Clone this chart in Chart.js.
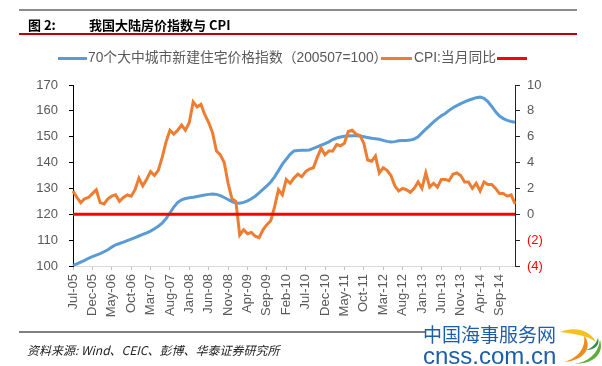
<!DOCTYPE html>
<html>
<head>
<meta charset="utf-8">
<script src="https://cdn.jsdelivr.net/npm/chart.js@4"></script>
<style>
    html, body { margin: 0; padding: 0; background: #fff; }
    #wrap { position: relative; width: 602px; height: 366px; overflow: hidden; font-family: "Liberation Sans", Arial, "Noto Sans CJK SC", sans-serif; }
    #priceChart { position: absolute; left: 0; top: 0; }
    .abs { position: absolute; white-space: nowrap; }
    .rule { position: absolute; }
    .title { font-family: "Noto Sans CJK SC", sans-serif; font-weight: bold; font-size: 13px; line-height: 16px; color: #000; }
    .legend-text { font-size: 13.8px; line-height: 16px; color: #595959; font-family: "Liberation Sans", Arial, "Noto Sans CJK SC", sans-serif; }
    .swatch { position: absolute; height: 3px; }
    .source { font-family: "Noto Sans CJK SC", serif; font-style: italic; font-size: 12px; line-height: 14px; color: #222; }
    .wm1 { font-family: "Noto Sans CJK SC", sans-serif; font-size: 19px; line-height: 20px; color: #1d5ea8; }
    .wm2 { font-family: "Liberation Sans", Arial, sans-serif; font-size: 24px; line-height: 22px; color: #1d5ea8; }
</style>
</head>
<body>
<div id="wrap">
    <canvas id="priceChart" width="602" height="366"></canvas>

    <!-- header -->
    <div class="rule" style="left:19px; top:9px; width:558px; height:2px; background:#8c8c8c;"></div>
    <div class="abs title" style="left:28px; top:17px;">图 2:</div>
    <div class="abs title" style="left:89px; top:17px;">我国大陆房价指数与 CPI</div>
    <div class="rule" style="left:19px; top:33px; width:558px; height:2px; background:#c00000;"></div>

    <!-- legend -->
    <div class="swatch" style="left:58px; top:57px; width:29px; background:#5b9bd5;"></div>
    <div class="abs legend-text" style="left:88px; top:50px;">70个大中城市新建住宅价格指数（200507=100）</div>
    <div class="swatch" style="left:381px; top:57px; width:31px; background:#ed7d31;"></div>
    <div class="abs legend-text" style="left:414px; top:50px;">CPI:当月同比</div>
    <div class="swatch" style="left:497px; top:57px; width:30px; background:#ff0000;"></div>

    <!-- footer -->
    <div class="rule" style="left:19px; top:331px; width:406px; height:2px; background:#808080;"></div>
    <div class="abs source" style="left:27px; top:343px;">资料来源: Wind、CEIC、彭博、华泰证券研究所</div>
    <div class="abs wm1" style="left:423px; top:324px;">中国海事服务网</div>
    <div class="abs wm2" style="left:423px; top:345px;">cnss.com.cn</div>
    <svg class="abs" style="left:558px; top:326px;" width="44" height="40" viewBox="0 0 44 40">
        <path d="M2 6 C 16 0, 32 4, 38 16 C 30 10, 18 8, 2 6 Z" fill="#f4c21b"/>
        <path d="M6 36 C 20 32, 28 22, 26 10 C 34 18, 30 34, 6 36 Z" fill="#f08a1c"/>
        <path d="M16 38 C 30 36, 40 28, 42 14 C 46 26, 38 38, 16 38 Z" fill="#5fae3c"/>
        <path d="M28 24 C 34 22, 38 18, 40 12 C 42 18, 38 24, 28 24 Z" fill="#2f8f4a"/>
    </svg>
</div>

<script>
// --- Data ---
const months = [
    'Jul-05','Aug-05','Sep-05','Oct-05','Nov-05','Dec-05',
    'Jan-06','Feb-06','Mar-06','Apr-06','May-06','Jun-06','Jul-06','Aug-06','Sep-06','Oct-06','Nov-06','Dec-06',
    'Jan-07','Feb-07','Mar-07','Apr-07','May-07','Jun-07','Jul-07','Aug-07','Sep-07','Oct-07','Nov-07','Dec-07',
    'Jan-08','Feb-08','Mar-08','Apr-08','May-08','Jun-08','Jul-08','Aug-08','Sep-08','Oct-08','Nov-08','Dec-08',
    'Jan-09','Feb-09','Mar-09','Apr-09','May-09','Jun-09','Jul-09','Aug-09','Sep-09','Oct-09','Nov-09','Dec-09',
    'Jan-10','Feb-10','Mar-10','Apr-10','May-10','Jun-10','Jul-10','Aug-10','Sep-10','Oct-10','Nov-10','Dec-10',
    'Jan-11','Feb-11','Mar-11','Apr-11','May-11','Jun-11','Jul-11','Aug-11','Sep-11','Oct-11','Nov-11','Dec-11',
    'Jan-12','Feb-12','Mar-12','Apr-12','May-12','Jun-12','Jul-12','Aug-12','Sep-12','Oct-12','Nov-12','Dec-12',
    'Jan-13','Feb-13','Mar-13','Apr-13','May-13','Jun-13','Jul-13','Aug-13','Sep-13','Oct-13','Nov-13','Dec-13',
    'Jan-14','Feb-14','Mar-14','Apr-14','May-14','Jun-14','Jul-14','Aug-14','Sep-14','Oct-14','Nov-14','Dec-14',
    'Jan-15'
];

// 70 city new home price index (200507=100), left axis
const priceIndex = [
    100.2, 100.8, 101.5, 102.2, 103.0, 103.6,
    104.2, 104.8, 105.5, 106.3, 107.3, 108.2, 108.7, 109.2, 109.8, 110.4, 111.0, 111.6,
    112.2, 112.8, 113.5, 114.4, 115.4, 116.6, 118.3, 120.5, 122.8, 124.6, 125.6, 126.1,
    126.4, 126.6, 126.9, 127.2, 127.5, 127.7, 127.8, 127.7, 127.2, 126.5, 125.7, 124.9,
    124.4, 124.3, 124.6, 125.2, 126.0, 127.0, 128.3, 129.6, 131.0, 132.5, 134.5, 136.9,
    139.4, 141.3, 143.2, 144.5, 144.7, 144.8, 144.8, 144.9, 145.5, 146.1, 146.7, 147.3,
    148.0, 148.9, 149.5, 149.9, 150.2, 150.3, 150.4, 150.4, 150.3, 150.0, 149.7, 149.4,
    149.2, 149.0, 148.6, 148.2, 148.0, 148.1, 148.4, 148.5, 148.5, 148.7, 149.1, 150.0,
    151.5, 152.9, 154.3, 155.7, 157.0, 158.1, 159.0, 160.2, 161.2, 162.0, 162.8, 163.5,
    164.1, 164.6, 165.1, 165.3, 164.8, 163.6, 161.7, 159.6, 158.0, 157.0, 156.3, 155.9,
    155.6
];

// CPI year-on-year (%), right axis
const cpiYoy = [
    1.8, 1.3, 0.9, 1.2, 1.3, 1.6,
    1.9, 0.9, 0.8, 1.2, 1.4, 1.5, 1.0, 1.3, 1.5, 1.4, 1.9, 2.8,
    2.2, 2.7, 3.3, 3.0, 3.4, 4.4, 5.6, 6.5, 6.2, 6.5, 6.9, 6.5,
    7.1, 8.7, 8.3, 8.5, 7.7, 7.1, 6.3, 4.9, 4.6, 4.0, 2.4, 1.2,
    1.0, -1.6, -1.2, -1.5, -1.4, -1.7, -1.8, -1.2, -0.8, -0.5, 0.6, 1.9,
    1.5, 2.7, 2.4, 2.8, 3.1, 2.9, 3.3, 3.5, 3.6, 4.4, 5.1, 4.6,
    4.9, 4.9, 5.4, 5.3, 5.5, 6.4, 6.5, 6.2, 6.1, 5.5, 4.2, 4.1,
    4.5, 3.2, 3.6, 3.4, 3.0, 2.2, 1.8, 2.0, 1.9, 1.7, 2.0, 2.5,
    2.0, 3.2, 2.1, 2.4, 2.1, 2.7, 2.7, 2.6, 3.1, 3.2, 3.0, 2.5,
    2.5, 2.0, 2.4, 1.8, 2.5, 2.3, 2.3, 2.0, 1.6, 1.6, 1.4, 1.5,
    0.8
];

// zero reference line on the right axis, from first to last month
const zeroLine = [
    { x: 'Jul-05', y: 0 },
    { x: 'Jan-15', y: 0 }
];

const leftTicks = { min: 100, max: 170, step: 10 };
const rightTicks = { min: -4, max: 10, step: 2 };
const labelEvery = 5;

// --- Chart ---
const tickFont = { family: '"Liberation Sans", Arial, sans-serif', size: 13 };
const ctx = document.getElementById('priceChart').getContext('2d');

const priceChart = new Chart(ctx, {
    type: 'line',
    data: {
        labels: months,
        datasets: [
            {
                label: 'CPI:当月同比 zero',
                data: zeroLine,
                yAxisID: 'y1',
                borderColor: '#ff0000',
                borderWidth: 3,
                pointRadius: 0,
                order: 0
            },
            {
                label: 'CPI:当月同比',
                data: cpiYoy,
                yAxisID: 'y1',
                borderColor: '#ed7d31',
                borderWidth: 3,
                pointRadius: 0,
                tension: 0,
                order: 1
            },
            {
                label: '70个大中城市新建住宅价格指数（200507=100）',
                data: priceIndex,
                yAxisID: 'y',
                borderColor: '#5b9bd5',
                borderWidth: 3,
                pointRadius: 0,
                tension: 0,
                order: 2
            }
        ]
    },
    options: {
        responsive: false,
        animation: false,
        devicePixelRatio: 1,
        layout: { padding: { top: 85, right: 0, bottom: 0, left: 0 } },
        plugins: {
            legend: { display: false },
            tooltip: { enabled: false }
        },
        scales: {
            x: {
                offset: false,
                border: { color: '#d9d9d9', width: 1 },
                grid: {
                    display: true,
                    drawOnChartArea: false,
                    tickLength: 4,
                    tickColor: function(c) {
                        return c.index % labelEvery === 0 ? '#bfbfbf' : 'rgba(0,0,0,0)';
                    }
                },
                ticks: {
                    autoSkip: false,
                    maxRotation: 90,
                    minRotation: 90,
                    padding: 4,
                    color: '#595959',
                    font: tickFont,
                    callback: function(value, index) {
                        return index % labelEvery === 0 ? months[index] : '';
                    }
                },
                afterFit: function(scale) { scale.height = 100; }
            },
            y: {
                position: 'left',
                min: leftTicks.min,
                max: leftTicks.max,
                border: { color: '#000', width: 1 },
                grid: { display: true, drawOnChartArea: false, tickLength: 4, tickColor: '#000' },
                ticks: {
                    stepSize: leftTicks.step,
                    padding: 11,
                    color: '#595959',
                    font: tickFont
                },
                afterFit: function(scale) { scale.width = 73; }
            },
            y1: {
                position: 'right',
                min: rightTicks.min,
                max: rightTicks.max,
                border: { color: '#262626', width: 1 },
                grid: { display: true, drawOnChartArea: false, tickLength: 5, tickColor: '#262626' },
                ticks: {
                    stepSize: rightTicks.step,
                    padding: 7,
                    font: tickFont,
                    color: function(c) {
                        return c.tick && c.tick.value < 0 ? '#ff0000' : '#595959';
                    },
                    callback: function(value) {
                        return value < 0 ? '(' + Math.abs(value) + ')' : String(value);
                    }
                },
                afterFit: function(scale) { scale.width = 87; }
            }
        }
    }
});
</script>
</body>
</html>
